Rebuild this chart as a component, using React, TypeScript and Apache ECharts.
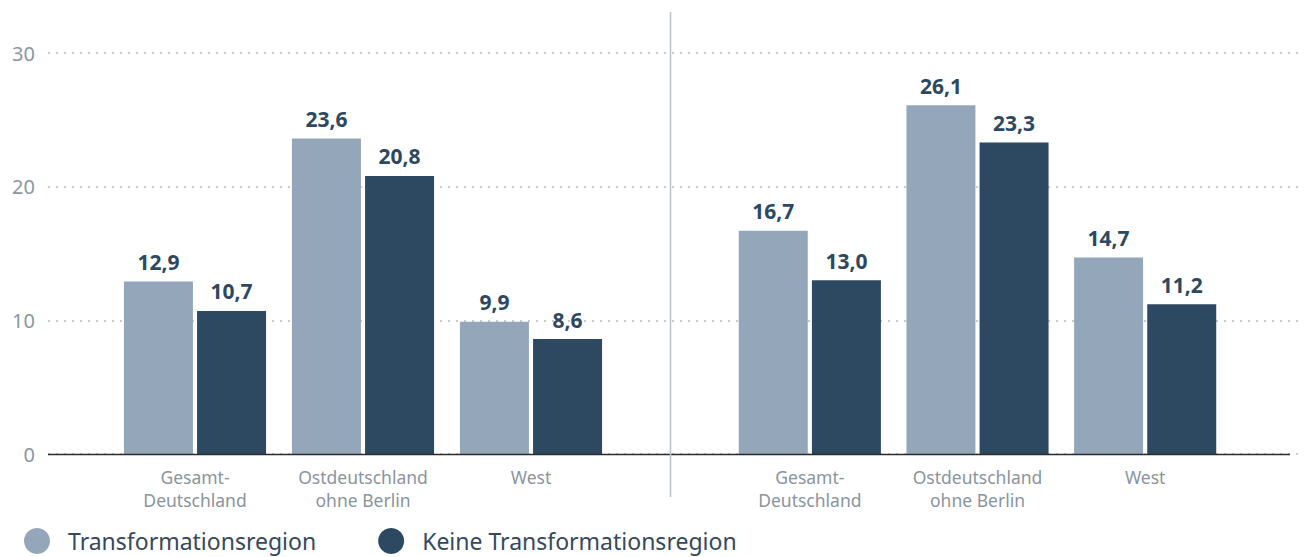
import React, { useEffect, useRef } from "react";
import * as echarts from "echarts";

const categories = ["Gesamt-\nDeutschland", "Ostdeutschland\nohne Berlin", "West"];
const seriesNames = ["Transformationsregion", "Keine Transformationsregion"];
const leftTrans = [12.9, 23.6, 9.9];
const leftKeine = [10.7, 20.8, 8.6];
const rightTrans = [16.7, 26.1, 14.7];
const rightKeine = [13.0, 23.3, 11.2];
const yTicks = [0, 10, 20, 30];

const LIGHT = "#94a7ba";
const DARK = "#2d4861";
const FONT = "'Source Sans Pro', 'Noto Sans', sans-serif";

const fmt = (v: number) => v.toFixed(1).replace(".", ",");

export default function App() {
  const ref = useRef<HTMLDivElement>(null);
  useEffect(() => {
    const chart = echarts.init(ref.current!, null, { renderer: "svg" });
    const top = 53;
    const bottom = 103;
    const barLabel = {
      show: true,
      position: "top" as const,
      distance: 9,
      formatter: (p: any) => fmt(p.value),
      color: DARK,
      fontWeight: "bold" as const,
      fontSize: 21,
      fontFamily: FONT,
    };
    const catAxis = (gi: number) => ({
      type: "category" as const,
      gridIndex: gi,
      data: categories,
      axisLine: { show: false },
      axisTick: { show: false },
      axisLabel: {
        color: "#8a949e",
        fontSize: 17.5,
        lineHeight: 23,
        fontFamily: FONT,
        margin: 11,
        interval: 0,
      },
    });
    const valAxis = (gi: number) => ({
      type: "value" as const,
      gridIndex: gi,
      min: 0,
      max: 30,
      interval: 10,
      axisLabel: { show: false },
      axisLine: { show: false },
      axisTick: { show: false },
      splitLine: { show: false },
    });
    const mkSeries = (name: string, data: number[], color: string, gi: number) => ({
      name,
      type: "bar" as const,
      xAxisIndex: gi,
      yAxisIndex: gi,
      data,
      barWidth: 69,
      barGap: "6%",
      itemStyle: { color },
      label: barLabel,
    });
    chart.setOption({
      animation: false,
      grid: [
        { left: 111, width: 504, top, bottom },
        { left: 726, width: 503, top, bottom },
        { left: 48, right: 6, top, bottom },
      ],
      xAxis: [
        catAxis(0),
        catAxis(1),
        {
          type: "value",
          gridIndex: 2,
          min: 0,
          max: 1,
          show: true,
          axisLabel: { show: false },
          axisTick: { show: false },
          splitLine: { show: false },
          axisLine: { show: false },
        },
      ],
      yAxis: [
        valAxis(0),
        valAxis(1),
        {
          type: "value",
          gridIndex: 2,
          min: yTicks[0],
          max: yTicks[yTicks.length - 1],
          interval: 10,
          axisLine: { show: false },
          axisTick: { show: false },
          axisLabel: {
            color: "#8c96a0",
            fontSize: 20,
            fontFamily: FONT,
            margin: 13,
          },
          splitLine: {
            show: true,
            lineStyle: { color: "#c3cbd3", type: [2, 6], width: 2 },
          },
        },
      ],
      legend: {
        left: 24,
        top: 528,
        padding: 0,
        icon: "circle",
        itemWidth: 26,
        itemHeight: 26,
        itemGap: 62,
        textStyle: {
          color: "#34495e",
          fontSize: 23,
          lineHeight: 23,
          fontFamily: FONT,
          padding: [0, 0, 0, 13],
        },
        data: seriesNames,
      },
      graphic: [
        {
          type: "line",
          shape: { x1: 48, y1: 454.5, x2: 1290, y2: 454.5 },
          style: { stroke: "#2b2b2b", lineWidth: 1.5 },
          z: 10,
        },
        {
          type: "line",
          shape: { x1: 670.5, y1: 12, x2: 670.5, y2: 497 },
          style: { stroke: "#b9c1c6", lineWidth: 1.5 },
          z: 10,
        },
      ],
      series: [
        mkSeries(seriesNames[0], leftTrans, LIGHT, 0),
        mkSeries(seriesNames[1], leftKeine, DARK, 0),
        mkSeries(seriesNames[0], rightTrans, LIGHT, 1),
        mkSeries(seriesNames[1], rightKeine, DARK, 1),
      ],
    });
    return () => chart.dispose();
  }, []);
  return <div ref={ref} style={{ width: 1306, height: 557, position: "absolute", left: 0, top: 0 }} />;
}
